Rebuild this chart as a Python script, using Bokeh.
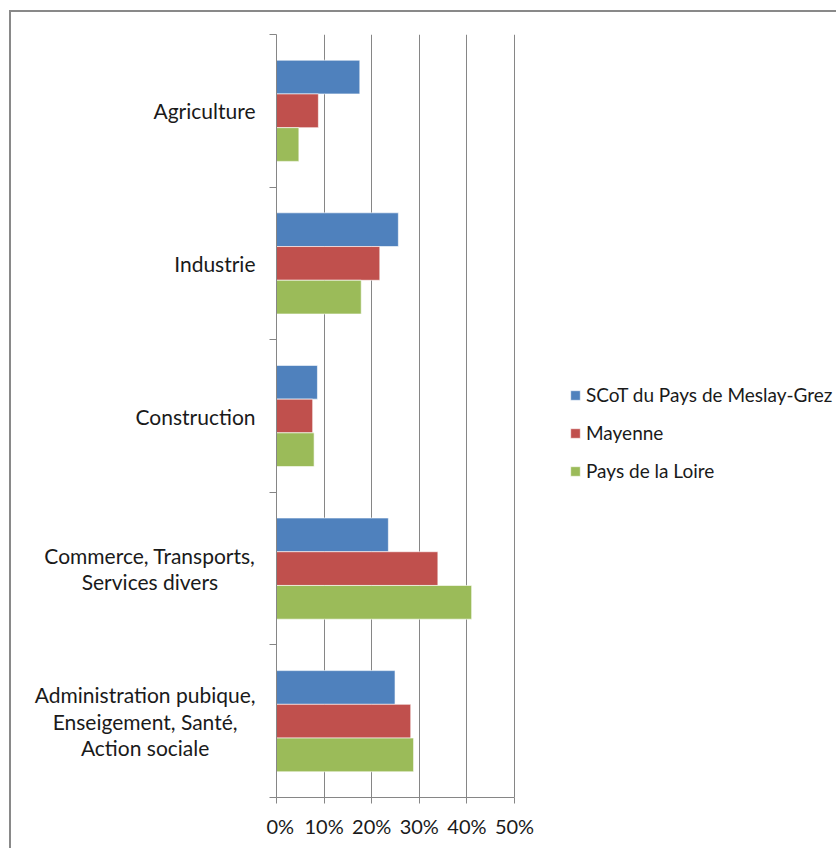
from bokeh.plotting import figure
from bokeh.layouts import row
from bokeh.models import (ColumnDataSource, Range1d, FixedTicker, NumeralTickFormatter,
                          Legend, LegendItem)
from bokeh.core.properties import value
from bokeh.transform import dodge
from bokeh.embed import file_html
from bokeh.resources import INLINE

categories = ["Agriculture", "Industrie", "Construction",
              "Commerce, Transports,\nServices divers",
              "Administration pubique,\nEnseigement, Santé,\nAction sociale"]
series_names = ["SCoT du Pays de Meslay-Grez", "Mayenne", "Pays de la Loire"]
scot = [0.175, 0.256, 0.086, 0.235, 0.249]
mayenne = [0.088, 0.217, 0.076, 0.339, 0.282]
pdl = [0.047, 0.178, 0.079, 0.410, 0.288]
x_ticks = [0, 0.1, 0.2, 0.3, 0.4, 0.5]

colors = ["#4F81BD", "#C0504D", "#9BBB59"]
FONT = "Lato"
TXT = "#1a1a1a"
AX = "#868686"

n = len(categories)
pos = [n - i - 0.5 for i in range(n)]
src = ColumnDataSource(dict(pos=pos, cat=categories, scot=scot, mayenne=mayenne, pdl=pdl))

H = 836
TOP = 22
FRAME_H = 763
BOTTOM = H - TOP - FRAME_H
LAB_W = 255
MAIN_W = 570
PX_PER_UNIT = 476.0           # 10% = 47.6 px
FRAME_W = MAIN_W - 10

yr = Range1d(0, n)

# label panel (category names, lines centred, block right-aligned)
lab = figure(width=LAB_W, height=H, output_backend="svg", toolbar_location=None,
             x_range=Range1d(0, LAB_W), y_range=yr,
             min_border_left=0, min_border_right=0, min_border_top=TOP, min_border_bottom=BOTTOM)
lab.axis.visible = False
lab.grid.visible = False
lab.outline_line_color = None
lab.text(x=LAB_W - 11, y="pos", text="cat", source=src, anchor="center_right",
         text_align="center", text_baseline="middle",
         text_font=value(FONT), text_font_size="21px", text_color=TXT, text_line_height=1.07)

p = figure(width=MAIN_W, height=H, output_backend="svg", toolbar_location=None,
           x_range=Range1d(0, FRAME_W / PX_PER_UNIT), y_range=yr,
           min_border_left=10, min_border_right=0, min_border_top=TOP, min_border_bottom=BOTTOM)
p.outline_line_color = None

bh = 0.221
renderers = []
for field, off, col in zip(["scot", "mayenne", "pdl"], [bh, 0, -bh], colors):
    r = p.hbar(y=dodge("pos", off, range=p.y_range), right=field, left=0, height=bh,
               source=src, fill_color=col, line_color="white", line_alpha=0.6, line_width=1)
    renderers.append(r)

# x axis
p.xaxis.bounds = (0, 0.5)
p.xaxis.ticker = FixedTicker(ticks=x_ticks)
p.xaxis.formatter = NumeralTickFormatter(format="0%")
p.xaxis.axis_line_color = AX
p.xaxis.major_tick_line_color = AX
p.xaxis.major_tick_in = 0
p.xaxis.major_tick_out = 6
p.xaxis.minor_tick_line_color = None
p.xaxis.major_label_standoff = 10
p.xaxis.major_label_text_font = FONT
p.xaxis.major_label_text_font_size = "20px"
p.xaxis.major_label_text_color = TXT

# y axis: ticks at category boundaries only (labels drawn in the label panel)
p.yaxis.ticker = FixedTicker(ticks=[], minor_ticks=list(range(n + 1)))
p.yaxis.major_label_standoff = 0
p.yaxis.axis_line_color = AX
p.yaxis.major_tick_line_color = None
p.yaxis.major_tick_in = 0
p.yaxis.major_tick_out = 0
p.yaxis.minor_tick_line_color = AX
p.yaxis.minor_tick_in = 0
p.yaxis.minor_tick_out = 7

p.xgrid.ticker = FixedTicker(ticks=x_ticks[1:])
p.xgrid.grid_line_color = AX
p.ygrid.grid_line_color = None

legend = Legend(items=[LegendItem(label=nm, renderers=[r]) for nm, r in zip(series_names, renderers)],
                location=(293, 315), glyph_width=12, glyph_height=12, label_standoff=5,
                spacing=15, padding=0, margin=0, border_line_color=None,
                background_fill_alpha=0, label_text_font=FONT, label_text_font_size="19px",
                label_text_color=TXT)
p.add_layout(legend, "center")

layout = row(lab, p, spacing=0)
layout.styles = {"border-left": "2px solid #898989", "border-top": "2px solid #898989",
                 "margin-left": "9px", "margin-top": "10px"}
open("out.html", "w").write(file_html(layout, INLINE))
